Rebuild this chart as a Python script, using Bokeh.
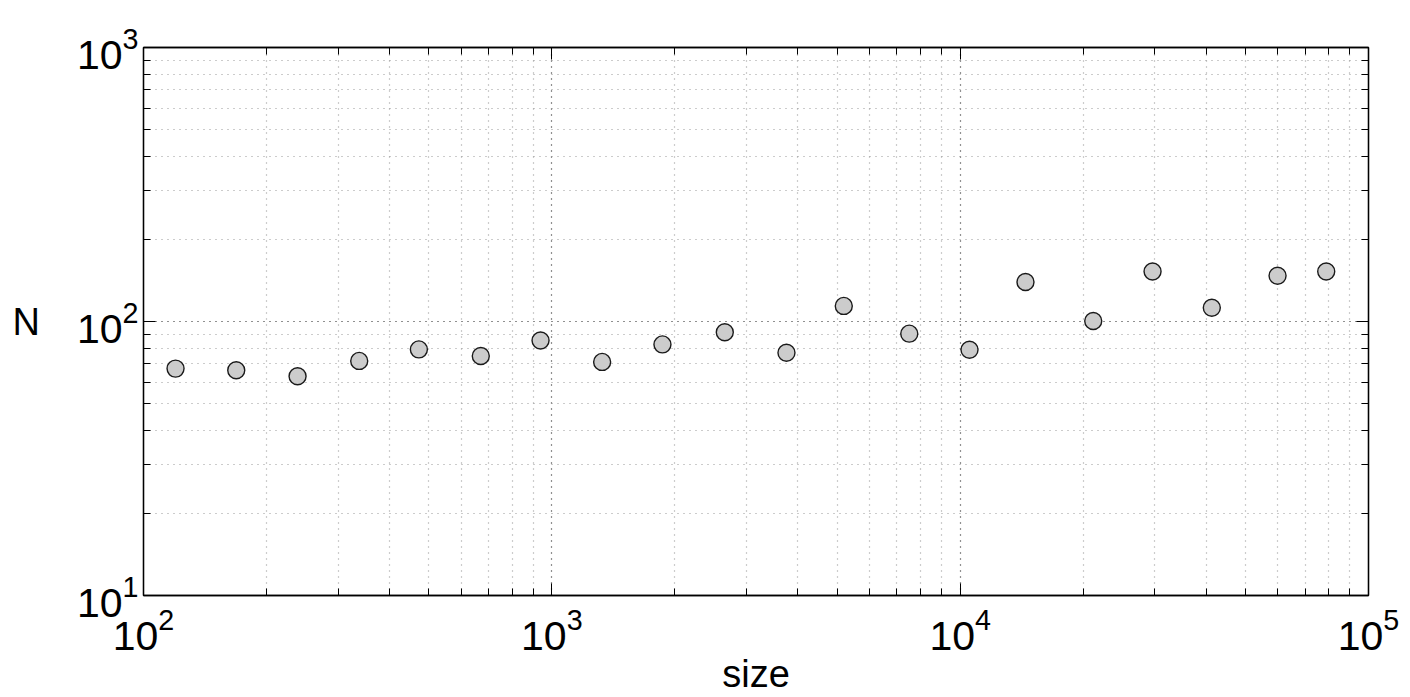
from bokeh.plotting import figure
from bokeh.models import LogAxis, FixedTicker, LogTickFormatter, ColumnDataSource, CustomJSTickFormatter
from bokeh.embed import file_html
from bokeh.resources import INLINE

size = [119.8, 168.7, 238.4, 337.5, 472.5, 669.9, 938.3, 1328, 1866, 2652,
        3755, 5188, 7505, 10541, 14454, 21177, 29590, 41330, 59880, 78790]
N = [67.3, 66.4, 63.1, 71.8, 79.1, 74.8, 85.2, 71.2, 82.5, 91.4,
     76.9, 114.0, 90.3, 78.9, 139.3, 100.4, 152.3, 112.2, 146.9, 152.3]

x_major = [1e2, 1e3, 1e4, 1e5]
y_major = [1e1, 1e2, 1e3]
x_minor = [m * 10 ** e for e in range(2, 5) for m in range(2, 10)]
y_minor = [m * 10 ** e for e in range(1, 3) for m in range(2, 10)]

FONT = "Liberation Sans"

p = figure(width=1410, height=697, x_axis_type="log", y_axis_type="log",
           x_range=(1e2, 1e5), y_range=(1e1, 1e3),
           output_backend="svg", toolbar_location=None,
           min_border_left=143, min_border_right=42, min_border_top=47, min_border_bottom=97)

p.outline_line_color = "black"
p.outline_line_width = 1.3
p.background_fill_color = "white"
p.border_fill_color = "white"

xt = FixedTicker(ticks=x_major, minor_ticks=x_minor)
yt = FixedTicker(ticks=y_major, minor_ticks=y_minor)

for ax, t in ((p.xaxis[0], xt), (p.yaxis[0], yt)):
    ax.ticker = t
    ax.formatter = LogTickFormatter()
    ax.major_label_text_font = FONT
    ax.major_label_text_font_size = "41px"
    ax.major_label_text_color = "black"
    ax.axis_label_text_font = FONT
    ax.axis_label_text_font_size = "38px"
    ax.axis_label_text_font_style = "normal"
    ax.axis_label_text_color = "black"
    ax.major_tick_in = 12
    ax.major_tick_out = 0
    ax.minor_tick_in = 7
    ax.minor_tick_out = 0
    ax.axis_line_color = "black"
    ax.axis_line_width = 1.3
    ax.major_tick_line_color = "black"
    ax.minor_tick_line_color = "black"

p.xaxis.axis_label = "size"
p.yaxis.axis_label = "N"
p.yaxis.axis_label_orientation = "horizontal"
p.xaxis.major_label_standoff = 12
p.yaxis.major_label_standoff = 5
p.xaxis.axis_label_standoff = 0
p.yaxis.axis_label_standoff = 34

empty = CustomJSTickFormatter(code="return ''")
for loc, t in (("right", yt), ("above", xt)):
    a = LogAxis(ticker=t, formatter=empty, major_tick_in=12, major_tick_out=0,
                minor_tick_in=7, minor_tick_out=0, major_label_text_font_size="0px",
                axis_line_color="black", axis_line_width=1.3,
                major_tick_line_color="black",
                minor_tick_line_color="black", major_label_standoff=0)
    p.add_layout(a, loc)

for g, t in ((p.xgrid[0], xt), (p.ygrid[0], yt)):
    g.ticker = t
    g.grid_line_color = "#222222"
    g.grid_line_alpha = 1.0
    g.grid_line_dash = "1 5"
    g.grid_line_width = 1.2
    g.minor_grid_line_color = "#999999"
    g.minor_grid_line_alpha = 1.0
    g.minor_grid_line_dash = "1 5"
    g.minor_grid_line_width = 1.2

src = ColumnDataSource(dict(size=size, N=N))
p.scatter("size", "N", source=src, size=17, fill_color="#cccccc",
          line_color="#1a1a1a", line_width=1.4)

open("out.html", "w").write(file_html(p, INLINE))
